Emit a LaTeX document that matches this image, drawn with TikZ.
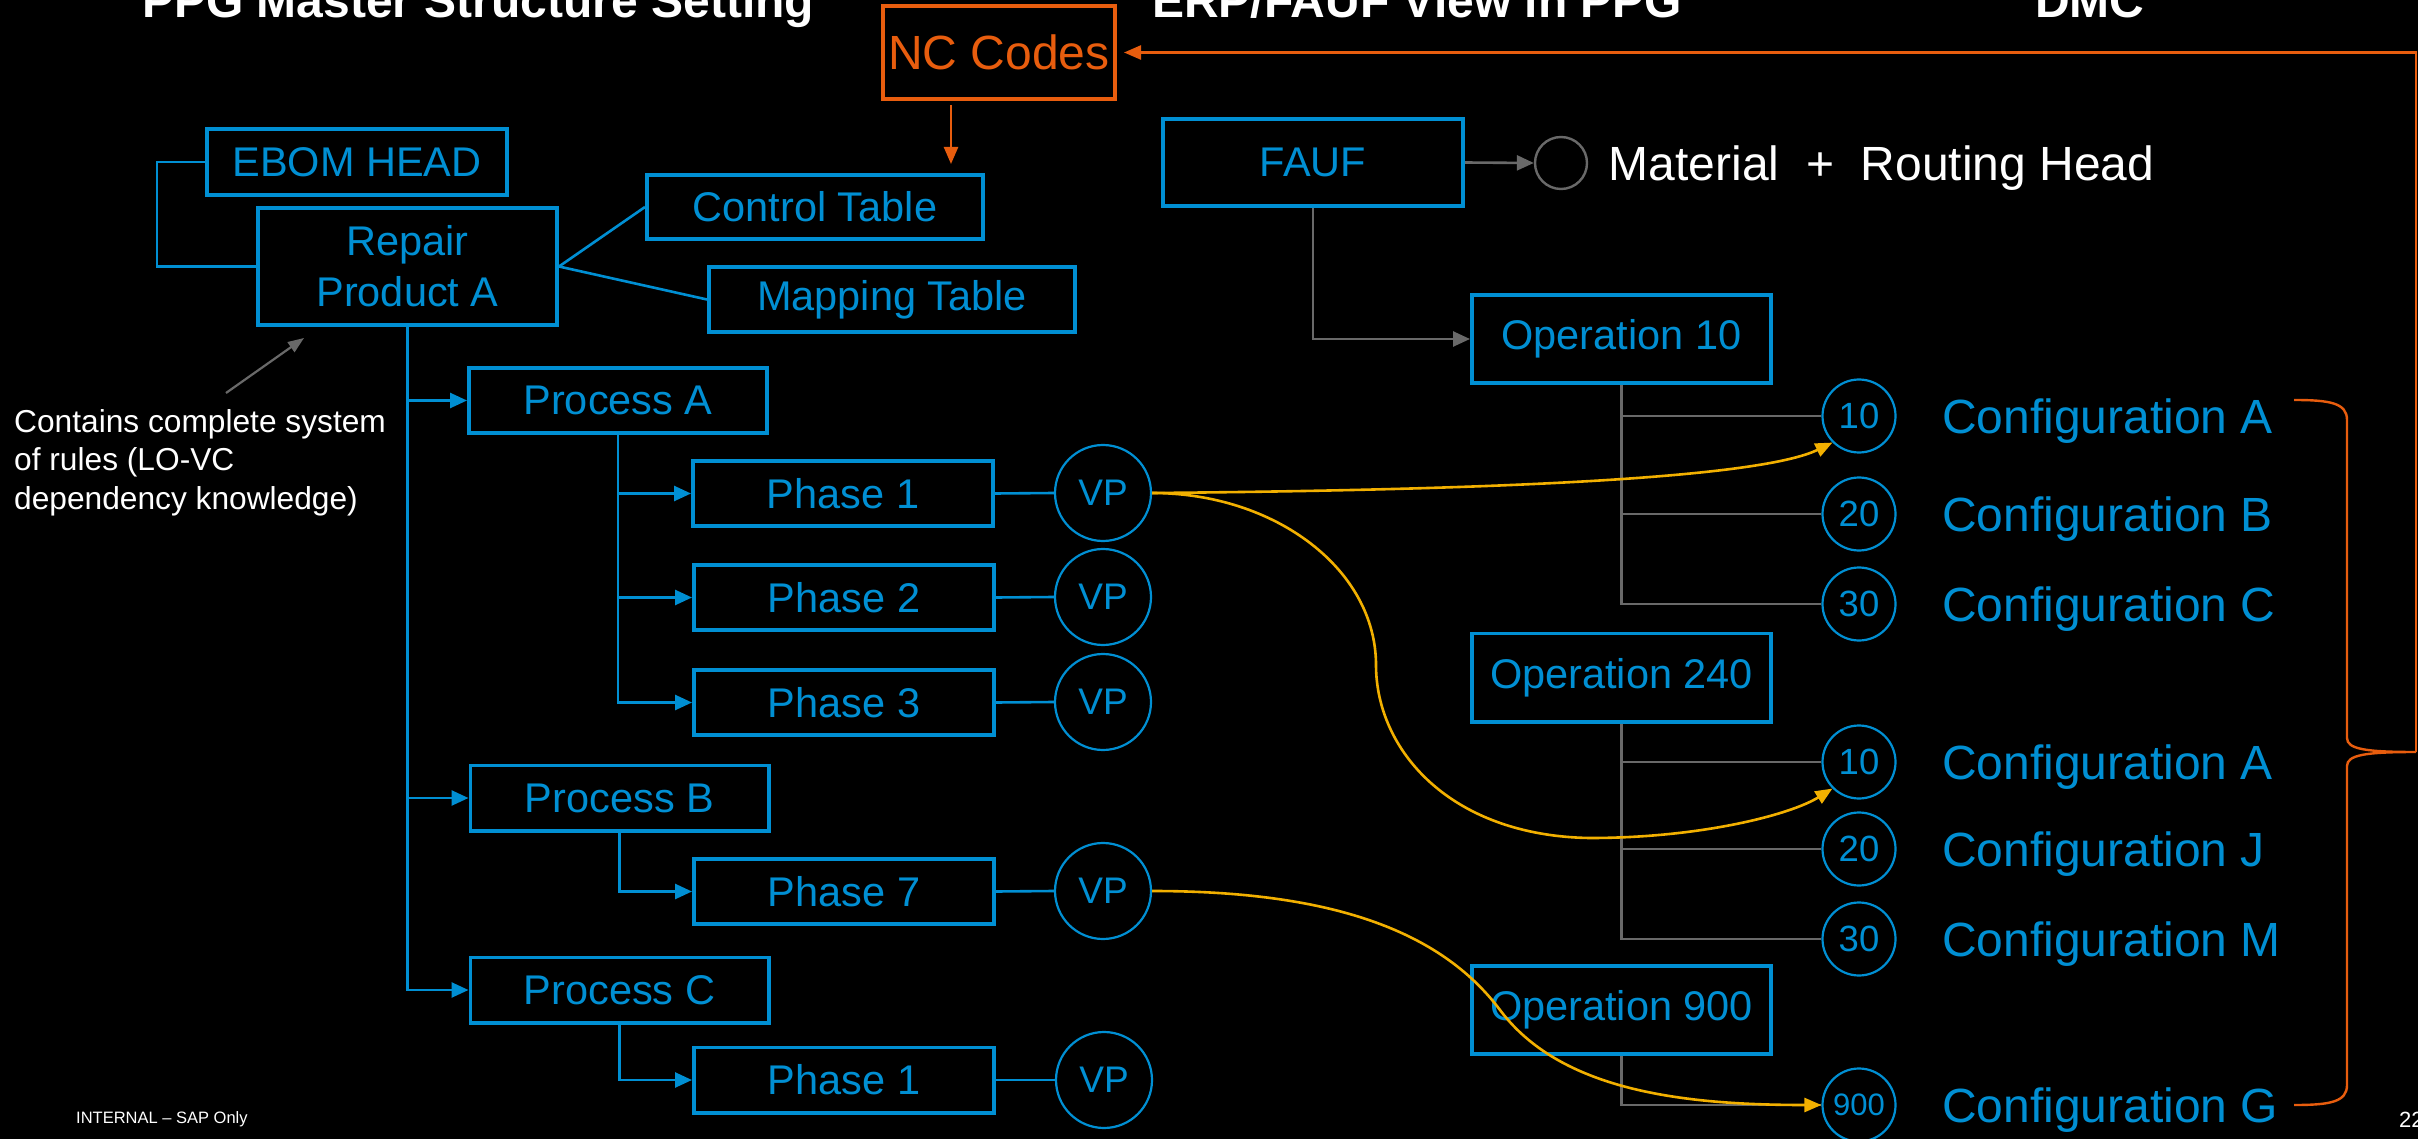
\documentclass[tikz,border=0pt]{standalone}
\usepackage{fontspec}
\setmainfont{Liberation Sans}
\usetikzlibrary{arrows.meta}
\definecolor{sapblue}{RGB}{0,143,211}
\definecolor{saporange}{RGB}{232,93,14}
\definecolor{sapgold}{RGB}{242,176,0}
\definecolor{linegray}{RGB}{105,105,105}
\begin{document}
\begin{tikzpicture}[x=1pt,y=-1pt,
  box/.style={draw=sapblue, line width=3.8pt, text=sapblue, inner sep=0pt, align=center, font=\fontsize{41.5}{51}\selectfont},
  pbox/.style={box, minimum width=300.2pt, minimum height=65.2pt},
  obox/.style={box, minimum width=299.2pt, minimum height=88.2pt},
  vpc/.style={circle, draw=sapblue, line width=2.2pt, text=sapblue, minimum size=96pt, inner sep=0pt, font=\fontsize{37}{40}\selectfont},
  numc/.style={circle, draw=sapblue, line width=2.2pt, text=sapblue, minimum size=73pt, inner sep=0pt, font=\fontsize{36.5}{40}\selectfont},
  cfg/.style={anchor=base west, text=sapblue, inner sep=0pt, font=\fontsize{48}{55}\selectfont},
  ttl/.style={anchor=base west, text=white, inner sep=0pt, font=\fontsize{48}{58}\selectfont\bfseries},
  bcon/.style={draw=sapblue, line width=2.6pt},
  barrow/.style={bcon, -{Triangle[length=17pt,width=15pt]}},
  gcon/.style={draw=linegray, line width=2.6pt},
  garrow/.style={gcon, -{Triangle[length=17pt,width=15pt]}},
  ycon/.style={draw=sapgold, line width=2.6pt, -{Triangle[length=17pt,width=14pt]}},
  ocon/.style={draw=saporange, line width=2.4pt},
]
\fill[black] (0,0) rectangle (2418,1139);
\useasboundingbox (0,0) rectangle (2418,1139);

% titles
\node[ttl] (t1) at (142,18) {PPG Master Structure Setting};
\node[ttl] (t2) at (1152,18) {ERP/FAUF View in PPG};
\node[ttl] (t3) at (2035,18) {DMC};

% left structure
\node[box, draw=saporange, text=saporange, minimum width=232.2pt, minimum height=93.2pt, font=\fontsize{48}{55}\selectfont] (nc) at (999,52.5) {NC Codes};
\node[box, minimum width=300.2pt, minimum height=66.2pt] (ebom) at (357,162) {EBOM HEAD};
\node[box, minimum width=299.2pt, minimum height=117.2pt] (repair) at (407.5,266.5) {Repair\\Product A};
\node[box, minimum width=336.2pt, minimum height=64.2pt] (ctl) at (815,207) {Control Table};
\node[box, minimum width=366.2pt, minimum height=65.2pt] (map) at (892,299.5) {Mapping Table};

\node[pbox, minimum width=298.2pt] (procA) at (618,400.5) {Process A};
\node[pbox, minimum width=298.2pt] (procB) at (619.5,798) {Process B};
\node[pbox, minimum width=298.2pt] (procC) at (619.5,990) {Process C};

\node[pbox] (ph1) at (843,493.5) {Phase 1};
\node[pbox] (ph2) at (844,597.5) {Phase 2};
\node[pbox] (ph3) at (844,702.5) {Phase 3};
\node[pbox] (ph7) at (844,891.5) {Phase 7};
\node[pbox] (ph1c) at (844,1080) {Phase 1};

\node[vpc] (vp1) at (1103,493) {VP};
\node[vpc] (vp2) at (1103,597) {VP};
\node[vpc] (vp3) at (1103,702) {VP};
\node[vpc] (vp7) at (1103,891) {VP};
\node[vpc] (vp1c) at (1104,1080) {VP};

\node[anchor=north west, text=white, align=left, inner sep=0pt, font=\fontsize{31.7}{38.5}\selectfont] (note) at (14,409) {Contains complete system\\of rules (LO-VC\\dependency knowledge)};
\coordinate (noteptr) at (226,393);
\coordinate (reptip) at (304,338);

\node[anchor=base west, text=white, inner sep=0pt, font=\fontsize{16.5}{20}\selectfont] (internal) at (76,1123) {INTERNAL -- SAP Only};
\node[anchor=base west, text=white, inner sep=0pt, font=\fontsize{22}{26}\selectfont] (pgno) at (2399,1127) {22};

% right structure
\node[box, minimum width=300.2pt, minimum height=87.2pt] (fauf) at (1313,162.5) {FAUF};
\node[circle, draw=linegray, line width=2.4pt, minimum size=52pt, inner sep=0pt] (matc) at (1561,163) {};
\node[anchor=base west, text=white, inner sep=0pt, font=\fontsize{48}{55}\selectfont] (mat) at (1608.5,181) {Material\ \ +\ \ Routing Head};

\node[obox] (op10) at (1621.5,339) {Operation 10};
\node[obox] (op240) at (1621.5,677.5) {Operation 240};
\node[obox] (op900) at (1621.5,1010) {Operation 900};

\node[numc] (n10a) at (1859,416) {10};
\node[numc] (n20a) at (1859,514) {20};
\node[numc] (n30a) at (1859,604) {30};
\node[numc] (n10b) at (1859,762) {10};
\node[numc] (n20b) at (1859,849) {20};
\node[numc] (n30b) at (1859,939) {30};
\node[numc, font=\fontsize{31}{34}\selectfont] (n900) at (1859,1105) {900};

\node[cfg] (cA) at (1942,433) {Configuration A};
\node[cfg] (cB) at (1942,531) {Configuration B};
\node[cfg] (cC) at (1942,621) {Configuration C};
\node[cfg] (cA2) at (1942,779) {Configuration A};
\node[cfg] (cJ) at (1942,866) {Configuration J};
\node[cfg] (cM) at (1942,956) {Configuration M};
\node[cfg] (cG) at (1942,1122) {Configuration G};

% blue connectors
\draw[bcon] (ebom.west) -- ++(-48,0) |- (repair.west);
\draw[bcon] (repair.east) -- (ctl.west);
\draw[bcon] (repair.east) -- (map.west);
\draw[barrow] (repair.south) |- (procA.west);
\draw[barrow] (repair.south) |- (procB.west);
\draw[barrow] (repair.south) |- (procC.west);
\draw[barrow] (procA.south) |- (ph1.west);
\draw[barrow] (procA.south) |- (ph2.west);
\draw[barrow] (procA.south) |- (ph3.west);
\draw[barrow] (procB.south) |- (ph7.west);
\draw[barrow] (procC.south) |- (ph1c.west);
\draw[bcon] (ph1.east) -- (vp1.west);
\draw[bcon] (ph2.east) -- (vp2.west);
\draw[bcon] (ph3.east) -- (vp3.west);
\draw[bcon] (ph7.east) -- (vp7.west);
\draw[bcon] (ph1c.east) -- (vp1c.west);

% gray connectors
\draw[draw=linegray, line width=2.2pt, -{Triangle[length=16pt,width=12pt]}] (noteptr) -- (reptip);
\draw[garrow] (fauf.east) -- (matc.west);
\draw[garrow] (fauf.south) |- (op10.west);
\draw[gcon] (op10.south) |- (n10a.west);
\draw[gcon] (op10.south) |- (n20a.west);
\draw[gcon] (op10.south) |- (n30a.west);
\draw[gcon] (op240.south) |- (n10b.west);
\draw[gcon] (op240.south) |- (n20b.west);
\draw[gcon] (op240.south) |- (n30b.west);
\draw[gcon] (op900.south) |- (n900.west);

% orange
\coordinate (bracetip) at (2416,752);
\coordinate (ncdrop) at ([xshift=-48pt]nc.south);
\draw[ocon, -{Triangle[length=17pt,width=14pt]}, shorten <=4pt, shorten >=9pt] (ncdrop) -- (ncdrop |- ctl.north);
\draw[ocon, -{Triangle[length=17pt,width=14pt]}, shorten >=7pt] (bracetip) |- (nc.east);
\draw[ocon] (2294,400) .. controls (2330,400) and (2347,403) .. (2347,420)
  -- (2347,738) .. controls (2347,749) and (2365,752) .. (bracetip)
  .. controls (2365,752) and (2347,755) .. (2347,766)
  -- (2347,1085) .. controls (2347,1102) and (2330,1105) .. (2294,1105);

% yellow
\draw[ycon] (vp1.east) .. controls (1500,490) and (1760,478) .. (n10a.south west);
\draw[ycon] (vp1.east) .. controls (1276,493) and (1376,570) .. (1376,665)
  .. controls (1376,750) and (1450,836) .. (1590,838)
  .. controls (1700,838) and (1790,815) .. (n10b.south west);
\draw[ycon] (vp7.east) .. controls (1330,891) and (1440,930) .. (1500,1010)
  .. controls (1560,1090) and (1680,1105) .. (n900.west);
\end{tikzpicture}
\end{document}
